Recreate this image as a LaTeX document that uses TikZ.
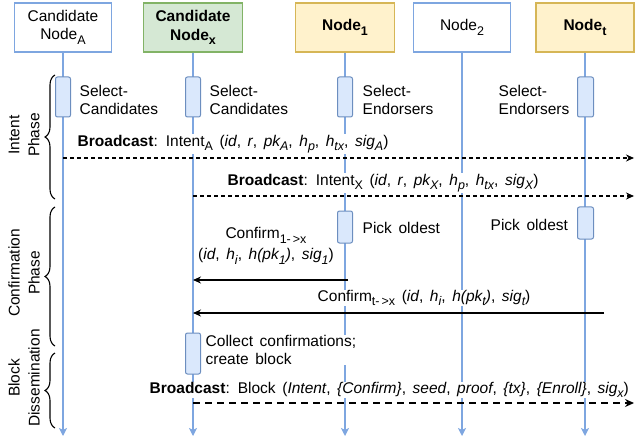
\documentclass[tikz,border=0pt]{standalone}
\usepackage{fontspec}
\setmainfont{Liberation Sans}
\usetikzlibrary{arrows.meta,decorations.pathreplacing}
\definecolor{lifec}{HTML}{7EA6E0}
\definecolor{actf}{HTML}{DAE8FC}
\definecolor{actd}{HTML}{6C8EBF}
\definecolor{grf}{HTML}{D5E8D4}
\definecolor{grd}{HTML}{82B366}
\definecolor{yef}{HTML}{FFF2CC}
\definecolor{yed}{HTML}{D6B656}
\newcommand{\subs}[1]{\raisebox{-0.28em}{\fontsize{12.5}{12.5}\selectfont #1}}
\newcommand{\widesp}{\spaceskip=6.6pt plus 1pt minus 1pt\relax}
\newcommand{\basefont}{\fontsize{15.5}{18}\selectfont\widesp}
\tikzset{
  hdr/.style={draw=lifec, fill=white, line width=1.3pt, minimum height=49pt, align=center, inner sep=0pt},
  hdrg/.style={hdr, draw=grd, fill=grf, font=\fontsize{15.5}{19}\selectfont\bfseries},
  hdry/.style={hdr, draw=yed, fill=yef, font=\fontsize{15.5}{19}\selectfont\bfseries},
  act/.style={draw=actd, fill=actf, rounded corners=2pt, minimum width=15pt, line width=1pt, inner sep=0pt},
  life/.style={draw=lifec, line width=1.3pt, -{Stealth[length=8pt,width=8pt,inset=2pt]}},
  lbl/.style={fill=white, inner sep=0.5pt, align=left},
  bcast/.style={draw=black, line width=1.1pt, dash pattern=on 4pt off 3pt, -{Stealth[length=8pt,width=7pt]}},
  bblock/.style={draw=black, line width=1.8pt, dash pattern=on 7pt off 5pt, -{Stealth[length=9pt,width=8pt]}},
  msg/.style={draw=black, line width=1.1pt, -{Stealth[length=8pt,width=7pt]}},
  phase/.style={rotate=90, align=center, inner sep=0pt, font=\fontsize{15.5}{20}\selectfont},
  brc/.style={draw=black, line width=1.1pt, decorate, decoration={brace, amplitude=10pt}}
}
\begin{document}
\begin{tikzpicture}[x=1pt, y=-1pt, font=\basefont]
\useasboundingbox (0,0) rectangle (636,438);
% headers
\node[hdr, minimum width=97pt] (hA) at (63,27.5) {Candidate\\Node\subs{A}};
\node[hdrg, minimum width=99pt] (hX) at (193,27.5) {Candidate\\Node\subs{x}};
\node[hdry, minimum width=99pt] (h1) at (345,27.5) {Node\subs{1}};
\node[hdr, minimum width=97pt] (h2) at (462,27.5) {Node\subs{2}};
\node[hdry, minimum width=98pt] (ht) at (585,27.5) {Node\subs{t}};
% lifeline ends
\coordinate (eA) at (63,436);
\coordinate (eX) at (193,436);
\coordinate (e1) at (345,436);
\coordinate (e2) at (462,436);
\coordinate (et) at (585,436);
\draw[life] (hA.south) -- (eA);
\draw[life] (hX.south) -- (eX);
\draw[life] (h1.south) -- (e1);
\draw[life] (h2.south) -- (e2);
\draw[life] (ht.south) -- (et);
% activation boxes
\node[act, minimum height=40pt] (aA) at (63,97) {};
\node[act, minimum height=40pt] (aX) at (193,97) {};
\node[act, minimum height=40pt] (a1) at (345,97) {};
\node[act, minimum height=40pt, minimum width=16pt] (at) at (585.5,97) {};
\node[act, minimum height=32pt] (p1) at (345,227) {};
\node[act, minimum height=32pt, minimum width=16pt] (pt) at (585.5,223) {};
\node[act, minimum height=41pt] (cX) at (193,353.5) {};
% activation labels
\node[lbl, anchor=west] (sA) at (79,100) {Select-\\Candidates};
\node[lbl, anchor=west] (sX) at (209,100) {Select-\\Candidates};
\node[lbl, anchor=west] (s1) at (362,100) {Select-\\Endorsers};
\node[lbl, anchor=west] (st) at (498,100) {Select-\\Endorsers};
\node[lbl, anchor=west] (q1) at (362,228) {Pick oldest};
\node[lbl, anchor=west] (qt) at (490,225) {Pick oldest};
\node[lbl, anchor=west] (cl) at (205,350) {Collect confirmations;\\create block};
% broadcast intent A
\coordinate (b1s) at (63,158);
\coordinate (b1e) at (634,158);
\draw[bcast] (b1s) -- (b1e);
\node[lbl, anchor=west] (b1l) at (77,144) {\textbf{Broadcast}: Intent\subs{A} (\textit{id}, \textit{r}, \textit{pk\subs{A}}, \textit{h\subs{p}}, \textit{h\subs{tx}}, \textit{sig\subs{A}})};
% broadcast intent X
\coordinate (b2s) at (193,196);
\coordinate (b2e) at (634,196);
\draw[bcast] (b2s) -- (b2e);
\node[lbl, anchor=west] (b2l) at (227,183) {\textbf{Broadcast}: Intent\subs{X} (\textit{id}, \textit{r}, \textit{pk\subs{X}}, \textit{h\subs{p}}, \textit{h\subs{tx}}, \textit{sig\subs{X}})};
% confirm 1
\coordinate (c1s) at (348,280);
\coordinate (c1e) at (193,280);
\draw[msg] (c1s) -- (c1e);
\node[lbl, align=center] (c1l) at (266,246) {Confirm\subs{1-\,>x}\\[3pt](\textit{id}, \textit{h\subs{i}}, \textit{h(pk\subs{1})}, \textit{sig\subs{1}})};
% confirm t
\coordinate (cts) at (604,313);
\coordinate (cte) at (193,313);
\draw[msg] (cts) -- (cte);
\node[lbl, anchor=west] (ctl) at (317,298) {Confirm\subs{t-\,>x} (\textit{id}, \textit{h\subs{i}}, \textit{h(pk\subs{t})}, \textit{sig\subs{t}})};
% block
\coordinate (bbs) at (193,403);
\coordinate (bbe) at (634,403);
\draw[bblock] (bbs) -- (bbe);
\node[lbl, anchor=west] (bbl) at (149,390) {\textbf{Broadcast}: Block (\textit{Intent}, \textit{\{Confirm\}}, \textit{seed}, \textit{proof}, \textit{\{tx\}}, \textit{\{Enroll\}}, \textit{sig\subs{x}})};
% phases
\draw[brc] (55,199) -- (55,75);
\draw[brc] (55,346) -- (55,207);
\draw[brc] (55,428) -- (55,353);
\node[phase] (ph1) at (24,135) {Intent\\Phase};
\node[phase] (ph2) at (24,273) {Confirmation\\Phase};
\node[phase] (ph3) at (24,378) {Block\\Dissemination};
\end{tikzpicture}
\end{document}
